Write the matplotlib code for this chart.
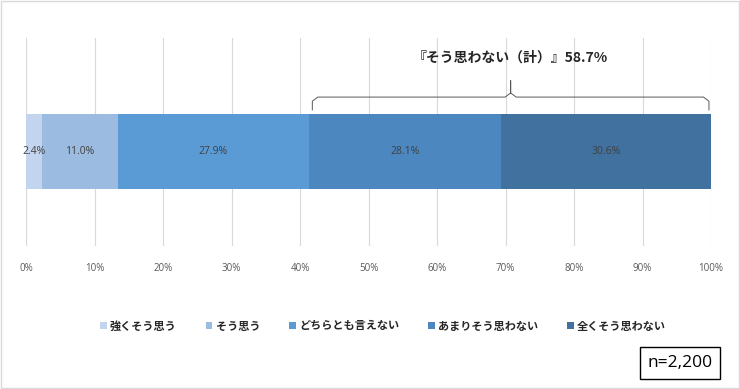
import matplotlib.pyplot as plt
from matplotlib.patches import Rectangle

plt.rcParams['font.family'] = ['Noto Sans CJK JP', 'DejaVu Sans']

categories = ['強くそう思う', 'そう思う', 'どちらとも言えない', 'あまりそう思わない', '全くそう思わない']
values = [2.4, 11.0, 27.9, 28.1, 30.6]
colors = ['#C3D5EE', '#9BBBE0', '#5B9BD5', '#4C87C0', '#41719F']
ticks = list(range(0, 101, 10))
total_label = '『そう思わない（計）』58.7%'
n_label = 'n=2,200'

num_font = ['Open Sans', 'DejaVu Sans']

fig = plt.figure(figsize=(7.4, 3.89), dpi=100)
ax = fig.add_axes([26 / 740, 1 - 246 / 389, 685 / 740, 208 / 389])

left = 0
for cat, v, c in zip(categories, values, colors):
    ax.barh(0.454, v, left=left, height=0.36, color=c, label=cat, zorder=3)
    ax.text(left + v / 2, 0.454, f'{v:.1f}%', ha='center', va='center',
            fontsize=7.5, color='#404040', family=num_font, zorder=4)
    left += v

ax.set_xlim(0, 100)
ax.set_ylim(0, 1)
ax.set_xticks(ticks)
ax.set_xticklabels([f'{t}%' for t in ticks], fontsize=7, color='#595959', family=num_font)
ax.tick_params(axis='x', length=0, pad=12)
ax.set_yticks([])
ax.grid(axis='x', color='#D9D9D9', linewidth=0.8, zorder=0)
for s in ax.spines.values():
    s.set_visible(False)

# brace over 'not agree' segments
x0 = sum(values[:3]) + 0.5
x1 = 99.7
xm = (x0 + x1) / 2
yb, yl, yt = 0.654, 0.716, 0.795
r = 0.8
bx = [x0, x0, x0 + r, xm - r, xm, xm, xm, xm + r, x1 - r, x1, x1]
by = [yb, yl - 0.02, yl, yl, yl + 0.02, yt, yl + 0.02, yl, yl, yl - 0.02, yb]
ax.plot(bx, by, color='#595959', linewidth=0.7, zorder=5, clip_on=False)
ax.text(xm, 0.905, total_label, ha='center', va='center', fontsize=10,
        fontweight='bold', color='#262626')

leg = fig.legend(loc='center', bbox_to_anchor=(383 / 740, 1 - 326 / 389), ncol=5,
                 frameon=False, fontsize=8, handlelength=0.6, handleheight=0.6,
                 handletextpad=0.3, columnspacing=2.6)
for t in leg.get_texts():
    t.set_fontweight('bold')
    t.set_color('#262626')

fig.text(680 / 740, 1 - 363 / 389, n_label, ha='center', va='center', fontsize=12.5,
         color='black', family=num_font,
         bbox=dict(boxstyle='square,pad=0.45', facecolor='white', edgecolor='black', linewidth=1))

fig.patches.append(Rectangle((0.001, 0.002), 0.997, 0.995, transform=fig.transFigure,
                             fill=False, edgecolor='#D9D9D9', linewidth=1))

fig.savefig('out.png', dpi=100)
